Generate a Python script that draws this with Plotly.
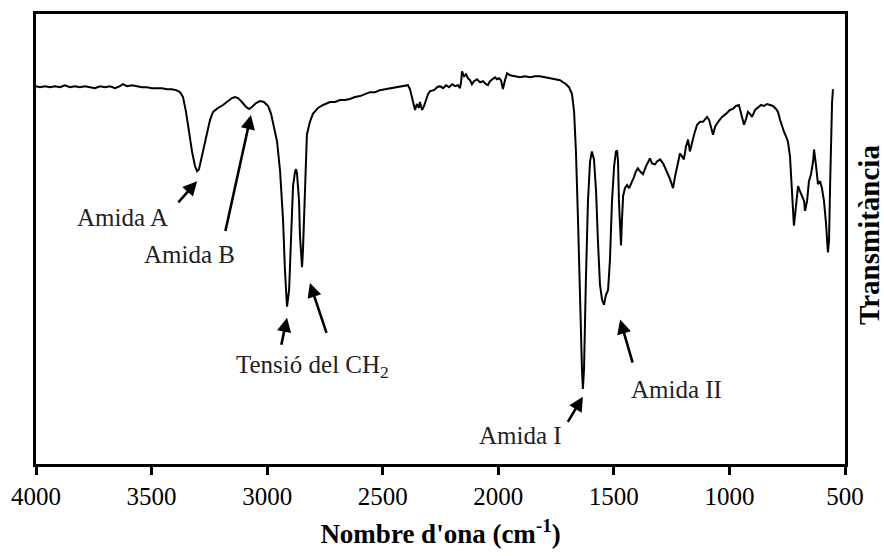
import plotly.graph_objects as go

# FTIR spectrum: wavenumber (cm-1) and transmittance (%, arbitrary scale)
wavenumber = [
    4000, 3983, 3961, 3939, 3918, 3896, 3875, 3853, 3831, 3810, 3788, 3766, 3745, 3723, 3701, 3680,
    3658, 3637, 3624, 3606, 3585, 3563, 3541, 3520, 3498, 3477, 3455, 3433, 3412, 3394, 3377, 3364,
    3351, 3338, 3325, 3312, 3303, 3295, 3282, 3265, 3247, 3234, 3213, 3191, 3169, 3152, 3139, 3126,
    3109, 3091, 3078, 3066, 3048, 3031, 3014, 2996, 2983, 2970, 2957, 2944, 2931, 2923, 2914, 2905,
    2897, 2888, 2879, 2875, 2871, 2862, 2858, 2849, 2845, 2836, 2828, 2815, 2802, 2780, 2758, 2728,
    2706, 2685, 2663, 2642, 2620, 2598, 2577, 2555, 2533, 2512, 2490, 2468, 2447, 2425, 2404, 2391,
    2382, 2373, 2360, 2352, 2343, 2339, 2330, 2321, 2313, 2304, 2295, 2278, 2265, 2252, 2239, 2226,
    2213, 2200, 2187, 2174, 2166, 2161, 2157, 2148, 2140, 2131, 2122, 2114, 2105, 2092, 2079, 2066,
    2053, 2045, 2036, 2027, 2014, 2006, 1997, 1988, 1980, 1971, 1962, 1949, 1928, 1906, 1884, 1863,
    1841, 1820, 1798, 1776, 1755, 1733, 1720, 1707, 1694, 1681, 1672, 1664, 1655, 1647, 1638, 1634,
    1629, 1621, 1612, 1603, 1595, 1586, 1577, 1569, 1560, 1551, 1543, 1534, 1525, 1517, 1508, 1499,
    1491, 1486, 1482, 1478, 1473, 1469, 1465, 1460, 1452, 1443, 1434, 1426, 1413, 1404, 1396, 1387,
    1374, 1361, 1352, 1344, 1335, 1322, 1313, 1300, 1287, 1274, 1266, 1257, 1248, 1244, 1235, 1222,
    1214, 1205, 1197, 1188, 1179, 1171, 1162, 1153, 1140, 1127, 1114, 1106, 1097, 1088, 1080, 1071,
    1062, 1049, 1032, 1015, 998, 985, 972, 959, 946, 937, 928, 920, 911, 902, 889, 876,
    863, 850, 838, 824, 812, 798, 790, 781, 773, 764, 755, 747, 738, 729, 721, 712,
    703, 695, 686, 677, 673, 664, 656, 647, 638, 634, 625, 617, 608, 600, 591, 582,
    574, 569, 565, 561, 556, 552,
]
transmittance = [
    76.4, 76.2, 76.4, 76.2, 76.4, 76.2, 76.6, 76.2, 76.4, 76.2, 76.4, 76.2, 76.0, 76.4, 76.2, 76.4,
    76.0, 76.4, 76.8, 76.4, 76.6, 76.4, 76.2, 76.2, 76.0, 76.0, 76.0, 75.8, 75.8, 75.6, 75.2, 74.2,
    71.2, 67.2, 63.2, 60.2, 59.2, 59.6, 62.2, 66.2, 69.6, 71.2, 72.0, 72.6, 73.4, 74.0, 74.2, 74.0,
    73.2, 72.2, 71.8, 72.2, 73.0, 73.4, 73.2, 72.4, 70.8, 68.2, 65.2, 59.2, 49.2, 39.2, 31.8, 35.2,
    47.2, 56.2, 59.2, 59.6, 58.8, 53.2, 46.2, 39.8, 43.2, 57.2, 66.6, 69.2, 70.8, 72.0, 72.6, 73.2,
    73.2, 73.6, 73.6, 73.8, 74.2, 74.4, 74.8, 75.2, 75.2, 75.6, 75.8, 76.0, 76.2, 76.4, 76.6, 76.6,
    75.8, 73.8, 71.6, 72.8, 72.0, 73.2, 71.6, 72.4, 73.6, 74.8, 75.4, 75.6, 76.2, 76.4, 76.0, 76.6,
    76.2, 76.8, 76.4, 76.6, 76.0, 77.2, 79.4, 78.4, 78.8, 78.0, 77.6, 76.8, 77.4, 77.8, 77.2, 77.4,
    76.8, 76.6, 77.4, 77.8, 78.2, 77.8, 78.0, 77.6, 75.8, 77.6, 79.0, 78.6, 78.4, 78.2, 78.4, 78.2,
    78.4, 78.4, 78.2, 78.0, 77.8, 77.6, 77.2, 76.8, 76.2, 74.8, 71.2, 63.2, 49.2, 33.2, 19.2, 15.2,
    19.2, 37.2, 53.2, 61.2, 63.2, 61.6, 55.2, 45.2, 36.2, 33.2, 32.2, 34.2, 35.2, 41.2, 53.2, 60.2,
    63.2, 63.4, 61.2, 53.2, 46.2, 44.2, 49.2, 54.2, 55.8, 56.4, 55.8, 56.6, 58.0, 59.2, 59.8, 59.2,
    58.6, 60.2, 61.2, 61.8, 60.8, 60.6, 61.2, 61.6, 60.8, 59.6, 58.6, 57.6, 56.2, 55.8, 58.2, 61.2,
    62.8, 62.2, 61.6, 64.2, 65.6, 63.2, 65.2, 66.6, 68.6, 69.2, 69.2, 69.8, 70.2, 69.6, 68.2, 66.6,
    68.2, 69.2, 70.2, 70.8, 71.6, 71.8, 72.4, 72.6, 70.2, 68.6, 69.8, 71.2, 70.8, 70.2, 71.6, 72.2,
    72.6, 72.4, 72.8, 72.6, 72.4, 71.8, 71.2, 69.6, 68.2, 67.2, 66.2, 65.2, 62.2, 55.2, 48.2, 52.2,
    56.2, 55.2, 54.2, 53.2, 51.2, 53.2, 57.2, 58.6, 61.2, 63.6, 60.2, 56.6, 57.2, 55.8, 53.2, 48.6,
    42.8, 45.2, 55.2, 67.2, 73.2, 75.8,
]

x_ticks = [4000, 3500, 3000, 2500, 2000, 1500, 1000, 500]

# Band assignments: label, label position, arrow tip, arrow tail
band_labels = ["Amida A", "Amida B", "Tensió del CH<sub>2</sub>", "Amida I", "Amida II"]
label_x = [3624, 3334, 2805, 1906, 1227]
label_y = [49.8, 42.4, 19.8, 5.8, 15.0]
arrow_tip_x = [3303, 3070, 2914, 2815, 1634, 1473]
arrow_tip_y = [57.2, 70.6, 29.6, 36.6, 13.6, 29.2]
arrow_tail_x = [3390, 3182, 2940, 2741, 1703, 1417]
arrow_tail_y = [52.6, 46.8, 23.8, 26.2, 8.2, 20.2]

SERIF = "Liberation Serif, Times New Roman, serif"

fig = go.Figure()
fig.add_trace(go.Scatter(
    x=wavenumber, y=transmittance, mode="lines",
    line=dict(color="black", width=2), hoverinfo="skip", showlegend=False,
))

annotations = []
for tx, ty, sx, sy in zip(arrow_tip_x, arrow_tip_y, arrow_tail_x, arrow_tail_y):
    annotations.append(dict(
        x=tx, y=ty, ax=sx, ay=sy, xref="x", yref="y", axref="x", ayref="y",
        text="", showarrow=True, arrowhead=2, arrowsize=1.1, arrowwidth=2.6,
        arrowcolor="black", standoff=0,
    ))
for label, lx, ly in zip(band_labels, label_x, label_y):
    annotations.append(dict(
        x=lx, y=ly, xref="x", yref="y", text=label, showarrow=False,
        font=dict(family=SERIF, size=25, color="#222"),
        xanchor="center", yanchor="middle",
    ))
annotations.append(dict(
    x=1, y=0.5, xref="paper", yref="paper", xanchor="left", yanchor="middle",
    xshift=6, yshift=4, text="<b>Transmitància</b>", textangle=-90, showarrow=False,
    font=dict(family=SERIF, size=29, color="black"),
))

fig.update_layout(
    width=884, height=556,
    margin=dict(l=36, r=39, t=11, b=90),
    paper_bgcolor="white", plot_bgcolor="white",
    annotations=annotations,
    xaxis=dict(
        range=[4000, 500], tickvals=x_ticks, ticktext=[str(v) for v in x_ticks],
        showline=True, linecolor="black", linewidth=3, mirror=True,
        ticks="outside", ticklen=8, tickwidth=3, tickcolor="black",
        showgrid=False, zeroline=False,
        tickfont=dict(family=SERIF, size=25, color="black"),
        title=dict(text="<b>Nombre d'ona (cm<sup>-1</sup>)</b>",
                   font=dict(family=SERIF, size=27, color="black"), standoff=16),
    ),
    yaxis=dict(
        range=[0, 91], showline=True, linecolor="black", linewidth=3, mirror=True,
        showticklabels=False, ticks="", showgrid=False, zeroline=False,
    ),
)

fig.write_html("out.html")
